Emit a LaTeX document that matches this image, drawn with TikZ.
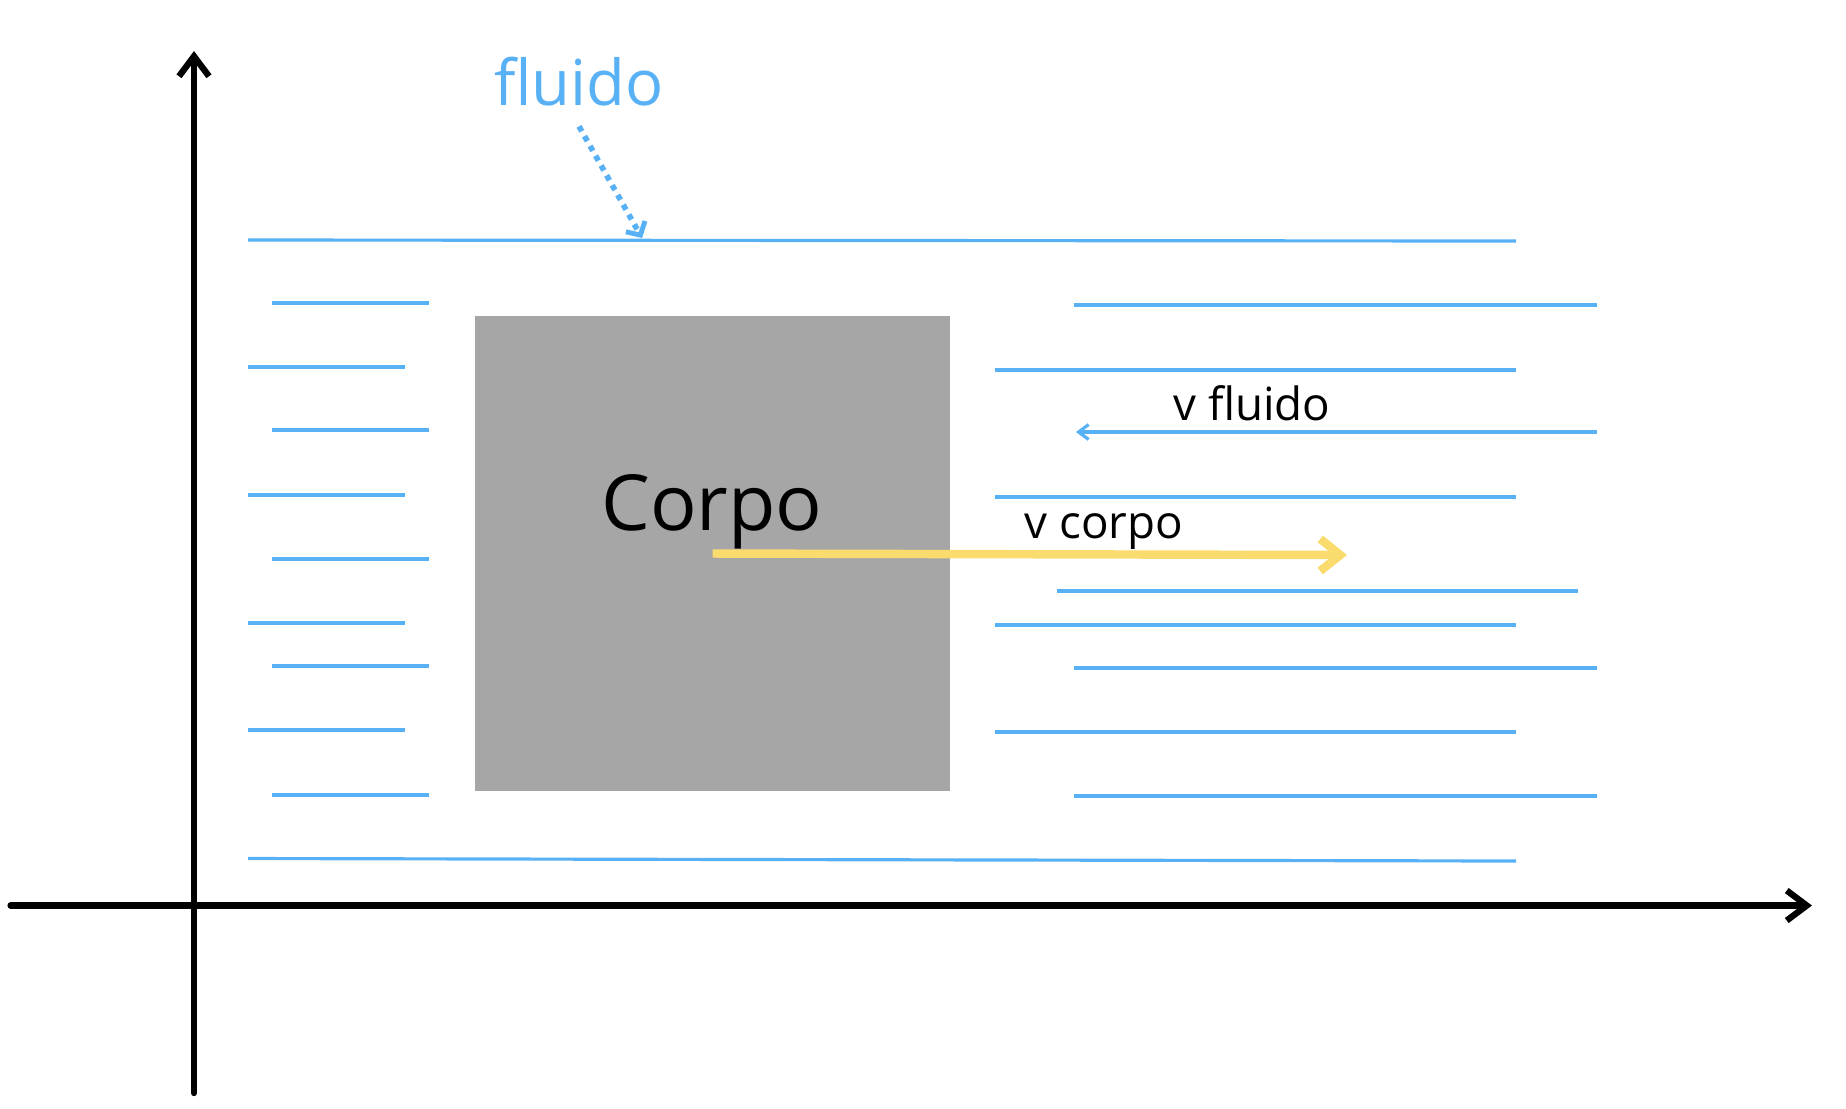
\documentclass[tikz,border=0pt]{standalone}
\usepackage{fontspec}
\setmainfont{Open Sans}
\usepackage{tikz}
\usetikzlibrary{arrows.meta,positioning}
\definecolor{myblue}{RGB}{88,176,245}
\definecolor{mygray}{RGB}{166,166,166}
\definecolor{myyellow}{RGB}{249,219,110}
\tikzstyle{body} = [rectangle, fill=mygray, minimum width=4.75cm, minimum height=4.75cm, inner sep=0pt]
\tikzstyle{axis} = [draw, line width=1.8pt, line cap=round, -{Straight Barb[length=0.2cm, width=0.3cm, line width=1.8pt]}]
\tikzstyle{flow} = [draw=myblue, line width=0.9pt]
\tikzstyle{vel} = [flow, -{Straight Barb[length=0.1cm, width=0.15cm]}]
\tikzstyle{tag} = [inner sep=0pt, anchor=base]

\begin{document}
\begin{tikzpicture}[x=0.01cm, y=-0.01cm]
    \useasboundingbox (0,0) rectangle (1846,1108);
    % Place nodes

    \node [body] (corpo) at (712.5,553.5) {};
    \node [tag, font=\fontsize{22}{26}\selectfont] at (712,530) (corpotxt) {Corpo};
    \node [tag, color=myblue, font=\fontsize{18}{21}\selectfont] at (579,105) (fluido) {fluido};
    \node [tag, font=\fontsize{13}{16}\selectfont] at (1252,420) (vfluido) {v fluido};
    \node [tag, font=\fontsize{13}{16}\selectfont] at (1104,538) (vcorpo) {v corpo};
    \coordinate (ftop) at (642,238);
    \coordinate (vtip) at (1347,555);
    \coordinate (o) at (194,905.5);
    \coordinate (xend) at (1812,905.5);
    \coordinate (yend) at (194,51);

    % axes
    \draw [axis] (10.6,905.5) -- (xend);
    \draw [axis] (194,1093) -- (yend);

    % fluid, left side
    \draw [flow] (248,240) -- (1516,241);
    \draw [flow] (272,303) -- (429,303);
    \draw [flow] (248,367) -- (405,367);
    \draw [flow] (272,430) -- (429,430);
    \draw [flow] (248,495) -- (405,495);
    \draw [flow] (272,559) -- (429,559);
    \draw [flow] (248,623) -- (405,623);
    \draw [flow] (272,666) -- (429,666);
    \draw [flow] (248,730) -- (405,730);
    \draw [flow] (272,795) -- (429,795);
    \draw [flow] (248,858.5) -- (1516,861);
    % fluid, right side
    \draw [flow] (1074,305) -- (1597,305);
    \draw [flow] (995,370) -- (1516,370);
    \draw [vel] (1597,432) -- (1076,432);
    \draw [flow] (995,497) -- (1516,497);
    \draw [flow] (1057,591) -- (1578,591);
    \draw [flow] (995,625) -- (1516,625);
    \draw [flow] (1074,668) -- (1597,668);
    \draw [flow] (995,732) -- (1516,732);
    \draw [flow] (1074,796) -- (1597,796);

    \draw [myblue, line width=1.6pt, dash pattern=on 1.6pt off 1.6pt,
        -{Straight Barb[length=0.1cm, width=0.22cm, line width=1.4pt]}] ([yshift=-0.2cm]fluido.south) -- (ftop);
    \draw [myyellow, line width=2.4pt, -{Straight Barb[length=0.2cm, width=0.32cm, line width=2.4pt]}] (corpo.center) -- (vtip);
\end{tikzpicture}
\end{document}
